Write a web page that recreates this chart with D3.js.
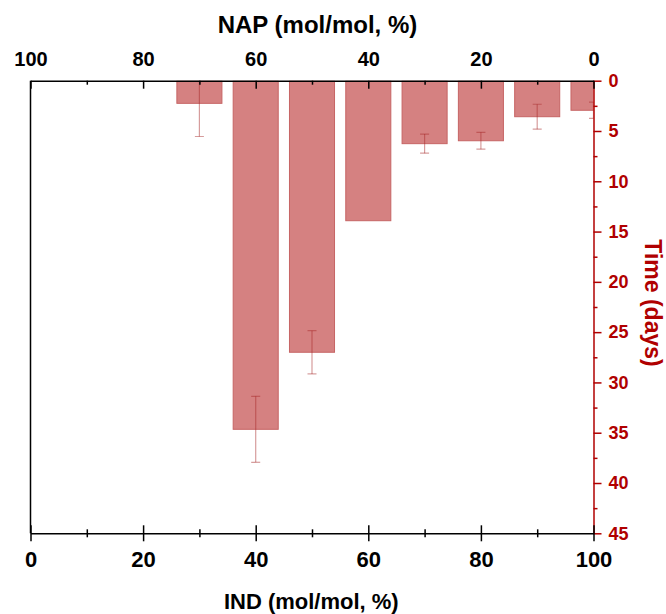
<!DOCTYPE html>
<html>

<head>
  <title>timeBars</title>
  <script src="https://d3js.org/d3.v7.min.js"></script>
  <style>
    body { margin: 0; background: #fff; }
    text { font-family: "Liberation Sans", Arial, sans-serif; font-weight: bold; }
  </style>
</head>

<body>
  <svg width="666" height="614" id="mainsvg"></svg>
  <script>
    // IND content (mol/mol, %) for each bar, NAP = 100 - IND
    const indValues = [30, 40, 50, 60, 70, 80, 90, 100];
    // time (days), mean and error
    const timeMeans = [2.25, 34.66, 27.0, 13.92, 6.26, 5.97, 3.58, 2.94];
    const timeErrors = [3.3, 3.28, 2.15, 0, 0.95, 0.84, 1.24, 0.81];

    const xMajorTicks = [0, 20, 40, 60, 80, 100];
    const xMinorTicks = [10, 30, 50, 70, 90];
    const yMajorTicks = [0, 5, 10, 15, 20, 25, 30, 35, 40, 45];
    const yMinorTicks = [2.5, 7.5, 12.5, 17.5, 22.5, 27.5, 32.5, 37.5, 42.5];

    const svg = d3.select('#mainsvg');
    const plotLeft = 30.5, plotRight = 593.5, plotTop = 80.7, plotBottom = 533.3;
    const red = '#b00000';

    const xScale = d3.scaleLinear().domain([0, 100]).range([plotLeft, plotRight]);
    const napScale = d3.scaleLinear().domain([100, 0]).range([plotLeft, plotRight]);
    const yScale = d3.scaleLinear().domain([0, 45]).range([plotTop, plotBottom]);

    svg.append('clipPath').attr('id', 'plotclip')
      .append('rect')
      .attr('x', plotLeft).attr('y', plotTop)
      .attr('width', plotRight - plotLeft).attr('height', plotBottom - plotTop);

    const data = indValues.map((v, i) => ({ ind: v, mean: timeMeans[i], err: timeErrors[i] }));
    const barW = xScale(8) - xScale(0);

    const plot = svg.append('g').attr('clip-path', 'url(#plotclip)');

    plot.selectAll('rect.bar').data(data).join('rect')
      .attr('class', 'bar')
      .attr('x', d => xScale(d.ind) - barW / 2)
      .attr('y', yScale(0))
      .attr('width', barW)
      .attr('height', d => yScale(d.mean) - yScale(0))
      .attr('fill', 'rgb(213,129,129)')
      .attr('stroke', 'rgb(198,100,100)')
      .attr('stroke-width', 1);

    // error bars
    const errData = data.filter(d => d.err > 0);
    const capW = 9;
    const errG = plot.append('g')
      .attr('stroke', 'rgba(165,35,35,0.45)')
      .attr('stroke-width', 1.2);
    errG.selectAll('line.stem').data(errData).join('line')
      .attr('class', 'stem')
      .attr('x1', d => xScale(d.ind)).attr('x2', d => xScale(d.ind))
      .attr('y1', d => yScale(d.mean - d.err))
      .attr('y2', d => yScale(d.mean + d.err));
    errG.selectAll('line.capTop').data(errData).join('line')
      .attr('class', 'capTop')
      .attr('x1', d => xScale(d.ind) - capW / 2).attr('x2', d => xScale(d.ind) + capW / 2)
      .attr('y1', d => yScale(d.mean - d.err)).attr('y2', d => yScale(d.mean - d.err));
    errG.selectAll('line.capBot').data(errData).join('line')
      .attr('class', 'capBot')
      .attr('x1', d => xScale(d.ind) - capW / 2).attr('x2', d => xScale(d.ind) + capW / 2)
      .attr('y1', d => yScale(d.mean + d.err)).attr('y2', d => yScale(d.mean + d.err));

    // left frame line
    svg.append('line')
      .attr('x1', plotLeft).attr('x2', plotLeft).attr('y1', plotTop).attr('y2', plotBottom)
      .attr('stroke', '#000').attr('stroke-width', 1.5);

    // right axis (time)
    const yAxisG = svg.append('g').attr('transform', `translate(${plotRight},0)`);
    yAxisG.append('g')
      .call(d3.axisRight(yScale).tickValues(yMinorTicks).tickSize(4).tickFormat(''))
      .call(g => g.select('.domain').remove());
    yAxisG.append('g')
      .call(d3.axisRight(yScale).tickValues(yMajorTicks).tickSizeInner(8).tickSizeOuter(0).tickPadding(7).tickFormat(d3.format('d')));
    yAxisG.selectAll('path, line').attr('stroke', red).attr('stroke-width', 1.5);
    yAxisG.selectAll('text').attr('fill', red).attr('font-size', 18);

    // top axis (NAP)
    const topG = svg.append('g').attr('transform', `translate(0,${plotTop})`);
    topG.append('g')
      .call(d3.axisTop(napScale).tickValues(xMinorTicks).tickSize(-4).tickFormat(''))
      .call(g => g.select('.domain').remove());
    topG.append('g')
      .call(d3.axisTop(napScale).tickValues(xMajorTicks).tickSizeInner(-8).tickSizeOuter(0).tickPadding(14.7).tickFormat(d3.format('d')));
    topG.selectAll('path, line').attr('stroke', '#000').attr('stroke-width', 1.5);
    topG.selectAll('text').attr('fill', '#000').attr('font-size', 20);

    // bottom axis (IND)
    const botG = svg.append('g').attr('transform', `translate(0,${plotBottom})`);
    botG.append('g')
      .call(d3.axisBottom(xScale).tickValues(xMinorTicks).tickSize(4).tickFormat(''))
      .call(g => g.select('.domain').remove())
      .call(g => g.selectAll('.tick line').attr('y1', -4));
    botG.append('g')
      .call(d3.axisBottom(xScale).tickValues(xMajorTicks).tickSizeInner(8).tickSizeOuter(0).tickPadding(9.8).tickFormat(d3.format('d')))
      .call(g => g.selectAll('.tick line').attr('y1', -8));
    botG.selectAll('path, line').attr('stroke', '#000').attr('stroke-width', 1.5);
    botG.selectAll('text').attr('fill', '#000').attr('font-size', 22);

    // axis titles
    svg.append('text')
      .text('NAP (mol/mol, %)')
      .attr('x', 317.5).attr('y', 33)
      .attr('text-anchor', 'middle')
      .attr('font-size', 24)
      .attr('fill', '#000');
    svg.append('text')
      .text('IND (mol/mol, %)')
      .attr('x', 311.3).attr('y', 609)
      .attr('text-anchor', 'middle')
      .attr('font-size', 22)
      .attr('fill', '#000');
    svg.append('text')
      .text('Time (days)')
      .attr('transform', 'translate(645,303) rotate(90)')
      .attr('text-anchor', 'middle')
      .attr('font-size', 23)
      .attr('fill', red);
  </script>
</body>

</html>
